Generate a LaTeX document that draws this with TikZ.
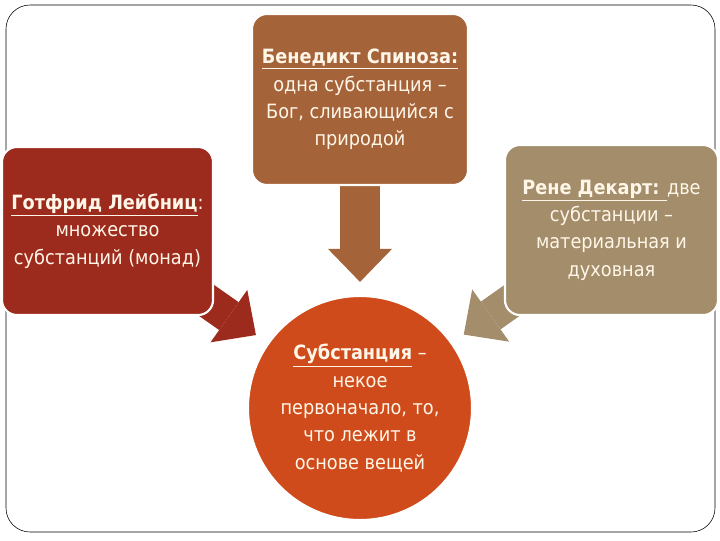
\documentclass[tikz,border=0pt]{standalone}
\usepackage{fontspec}
\setmainfont{DejaVu Sans Condensed}
\usetikzlibrary{arrows.meta,backgrounds}

\definecolor{spinozacol}{HTML}{A5633A}
\definecolor{leibcol}{HTML}{9C2A1D}
\definecolor{descartcol}{HTML}{A38D6B}
\definecolor{substcol}{HTML}{D04B1B}
\definecolor{textcol}{HTML}{FFF6E8}

\begin{document}
\begin{tikzpicture}[x=0.025cm,y=-0.025cm,
    panel/.style={draw=white,line width=1.5pt,rounded corners=0.375cm,
      text=textcol,align=center,inner sep=0pt,
      font=\fontsize{14}{19.5}\selectfont},
    bigarrow/.style={line width=#1,-{Triangle[line width=0pt,length=0.825cm,width=1.6cm]}}]
  \useasboundingbox (0,0) rectangle (720,540);
  \draw[rounded corners=0.6cm] (6,5) rectangle (715,532);
  % the three views
  \node[panel,fill=spinozacol,minimum width=5.4cm,minimum height=4.275cm] (spinoza) at (360,99.5)
    {\underline{\textbf{Бенедикт Спиноза:}}\\одна субстанция –\\Бог, сливающийся с\\природой};
  \node[panel,fill=leibcol,minimum width=5.275cm,minimum height=4.2cm] (leibniz) at (107.5,231)
    {\underline{\textbf{Готфрид Лейбниц}}:\\множество\\субстанций (монад)};
  \node[panel,fill=descartcol,minimum width=5.325cm,minimum height=4.25cm] (descartes) at (611.5,230)
    {\underline{\textbf{Рене Декарт:} }две\\субстанции –\\материальная и\\духовная};
  % the centre
  \node[panel,circle,fill=substcol,minimum size=5.6cm] (substance) at (360,408)
    {\underline{\textbf{Субстанция}} –\\некое\\первоначало, то,\\что лежит в\\основе вещей};
  \begin{scope}[on background layer]
    \draw[bigarrow=1cm,spinozacol,shorten >=0.325cm] (spinoza.south) -- (substance.north);
    \draw[bigarrow=0.85cm,leibcol,shorten >=0.35cm] (leibniz.center) -- (substance);
    \draw[bigarrow=0.85cm,descartcol,shorten >=0.35cm] (descartes.center) -- (substance);
  \end{scope}
\end{tikzpicture}
\end{document}
